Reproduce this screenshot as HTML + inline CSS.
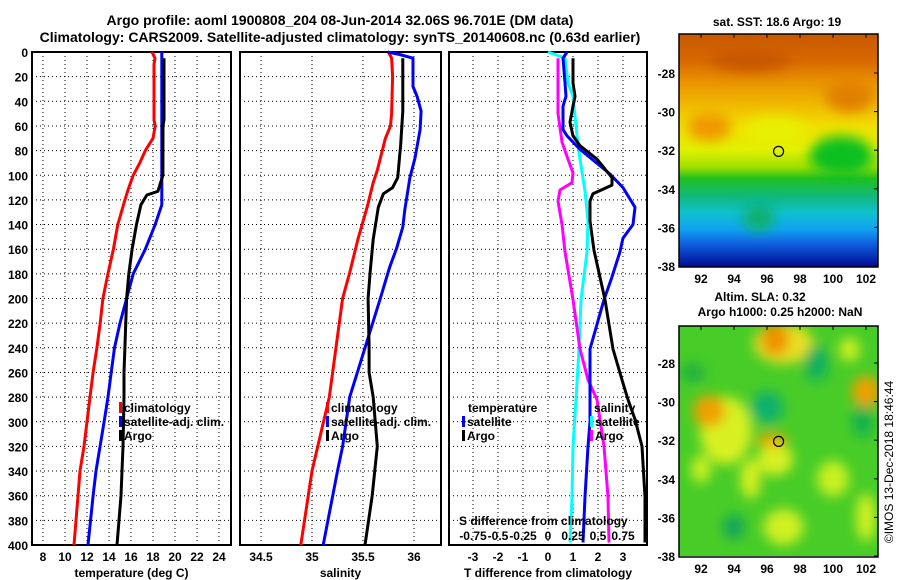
<!DOCTYPE html>
<html><head><meta charset="utf-8"><style>
body{margin:0;background:#fff;}
svg{display:block;font-family:"Liberation Sans",sans-serif;font-weight:bold;}
</style></head><body>
<svg id="c" width="900" height="580" viewBox="0 0 900 580">
<defs>
<linearGradient id="sstg" x1="0" y1="0" x2="0" y2="1">
<stop offset="0" stop-color="#c85800"/><stop offset="0.12" stop-color="#d86a00"/>
<stop offset="0.2" stop-color="#e89000"/><stop offset="0.3" stop-color="#f0b800"/>
<stop offset="0.4" stop-color="#f0e000"/><stop offset="0.5" stop-color="#e0f000"/>
<stop offset="0.57" stop-color="#a0e000"/><stop offset="0.62" stop-color="#20c020"/>
<stop offset="0.7" stop-color="#10b880"/><stop offset="0.77" stop-color="#10c0d0"/>
<stop offset="0.84" stop-color="#10a0f0"/><stop offset="0.9" stop-color="#1060e0"/>
<stop offset="1" stop-color="#000a90"/></linearGradient>
<filter id="bl" x="-50%" y="-50%" width="200%" height="200%"><feGaussianBlur stdDeviation="6"/></filter>
<clipPath id="cm1"><rect x="679" y="34" width="199" height="233"/></clipPath>
<clipPath id="cm2"><rect x="679" y="326" width="199" height="230"/></clipPath>
</defs>
<text x="340" y="25" font-size="14" text-anchor="middle">Argo profile: aoml 1900808_204 08-Jun-2014 32.06S 96.701E (DM data)</text>
<text x="340" y="42" font-size="14" text-anchor="middle">Climatology: CARS2009. Satellite-adjusted climatology: synTS_20140608.nc (0.63d earlier)</text>
<g id="plots"></g>
</svg>
<script>
// ---- data ----
const depthTicks=[0,20,40,60,80,100,120,140,160,180,200,220,240,260,280,300,320,340,360,380,400];
const tTicks=[8,10,12,14,16,18,20,22,24];
const sTicks=[34.5,35,35.5,36];
const dTTicks=[-3,-2,-1,0,1,2,3];
const dSTicks=[-0.75,-0.5,-0.25,0,0.25,0.5,0.75];
const dSLabels=["-0.75","-0.5","-0.25","0","0.25","0.5","0.75"];
const lonTicks=[92,94,96,98,100,102];
const latTicks=[-28,-30,-32,-34,-36,-38];

const tClimD=[0,5,10,30,55,60,70,80,90,100,110,120,140,160,180,200,220,240,260,280,320,340,360,400];
const tClimV=[17.91,18.18,18.09,18.09,18.09,18.2,18.0,17.3,16.8,16.2,15.8,15.45,14.8,14.4,13.9,13.45,13.2,12.9,12.55,12.27,11.73,11.36,11.18,10.82];
const tSatD=[0,124,140,160,180,200,220,240,260,280,300,340,360,400];
const tSatV=[18.8,18.8,18.2,17.3,16.2,15.6,15.0,14.5,14.2,13.91,13.55,12.82,12.55,12.09];
const tArgoD=[5,55,60,100,113,116,124,140,160,180,200,240,260,280,320,360,400];
const tArgoV=[19.0,19.0,18.91,18.9,18.45,17.45,16.9,16.5,16.1,15.8,15.6,15.45,15.36,15.36,15.27,15.09,14.73];

const sClimD=[0,5,20,50,60,70,96,106,126,152,179,200,280,340,400];
const sClimV=[35.75,35.78,35.79,35.78,35.77,35.72,35.64,35.60,35.54,35.45,35.37,35.30,35.17,35.00,34.89];
const sSatD=[0,2,5,28,36,48,63,86,102,128,142,159,175,200,280,320,340,400];
const sSatV=[35.74,35.86,35.99,35.99,36.03,36.07,36.06,36.01,35.96,35.91,35.89,35.83,35.76,35.67,35.37,35.30,35.25,35.11];
const sArgoD=[5,48,75,102,110,115,126,152,179,200,240,260,280,320,360,400];
const sArgoV=[35.89,35.89,35.87,35.84,35.79,35.70,35.65,35.60,35.57,35.55,35.56,35.56,35.60,35.64,35.59,35.52];

const dTArgoD=[5,25,36,44,57,68,76,87,102,108,115,121,137,161,201,241,266,282,298,320,361,398];
const dTArgoV=[1.0,1.0,1.08,1.0,0.88,1.0,1.28,1.96,2.56,2.56,1.8,1.68,1.68,1.84,2.28,2.6,2.96,3.2,3.48,3.76,3.88,3.88];
const dTSatD=[0,5,25,36,44,63,68,79,99,110,126,140,151,162,183,201,241,266,300,320,361,398];
const dTSatV=[0.76,0.6,0.68,0.72,0.6,0.6,0.76,1.28,2.48,3.0,3.48,3.4,3.0,2.88,2.55,2.24,1.68,1.68,1.68,1.6,1.48,1.4];
const dSArgoD=[5,50,73,87,98,106,112,121,140,162,201,241,266,282,320,361,398];
const dSArgoV=[0.10,0.10,0.14,0.20,0.25,0.24,0.12,0.10,0.14,0.17,0.25,0.32,0.40,0.49,0.56,0.60,0.61];
const dSSatD=[0,2,5,25,36,68,87,113,137,162,201,241,282,320,361,398];
const dSSatV=[0.0,0.07,0.17,0.20,0.25,0.29,0.32,0.37,0.40,0.39,0.33,0.31,0.28,0.25,0.24,0.22];

const argoLon=96.701, argoLat=-32.06;

// ---- drawing ----
const NS="http://www.w3.org/2000/svg";
const root=document.getElementById('plots');
function mk(tag,attrs,parent){const e=document.createElementNS(NS,tag);for(const k in attrs)e.setAttribute(k,attrs[k]);(parent||root).appendChild(e);return e;}
const yD=d=>52+d*1.2325;
const Y0=52,Y1=545;

const panels=[
 {name:'temperature',x0:32,x1:231,sx:v=>43+(v-8)*11,ticks:tTicks,lab:tTicks.map(String),xl:'temperature (deg C)'},
 {name:'salinity',x0:240,x1:441,sx:v=>261+(v-34.5)*102,ticks:sTicks,lab:sTicks.map(String),xl:'salinity'},
 {name:'difference',x0:449,x1:647,sx:v=>548+v*25,ticks:dTTicks,lab:dTTicks.map(String),xl:'T difference from climatology'}
];
const sxS=v=>548+v*100;

panels.forEach((p,i)=>{
  const g=mk('g',{});
  
  
  p.ticks.forEach(t=>{const x=p.sx(t);
    const l=mk('line',{x1:x,x2:x,y1:Y0,y2:Y1,stroke:'#000','stroke-width':1,'stroke-dasharray':'1,3'},g);
    
    const tx=mk('text',{x:x,y:561,'font-size':12,'text-anchor':'middle'},g);tx.textContent=p.lab[p.ticks.indexOf(t)];
    
  });
  depthTicks.forEach(d=>{const y=yD(d);
    if(d>0&&d<400){const l=mk('line',{x1:p.x0,x2:p.x1,y1:y,y2:y,stroke:'#000','stroke-width':1,'stroke-dasharray':'1,3'},g);
    }
    if(i===0){const tx=mk('text',{x:28,y:y+5,'font-size':12,'text-anchor':'end'},g);tx.textContent=d;
    }
  });
  const fr=mk('rect',{x:p.x0,y:Y0,width:p.x1-p.x0,height:Y1-Y0,fill:'none',stroke:'#000','stroke-width':2},g);
  
  const xl=mk('text',{x:(p.x0+p.x1)/2,y:577,'font-size':12,'text-anchor':'middle'},g);xl.textContent=p.xl;
  
  p.g=g;
});

function line(g,D,V,sx,col,name){
  const pts=D.map((d,k)=>sx(V[k]).toFixed(1)+','+yD(d).toFixed(1)).join(' ');
  const l=mk('polyline',{points:pts,fill:'none',stroke:col,'stroke-width':3,'stroke-linejoin':'round'},g);
  
}
const P=panels;
line(P[0].g,tClimD,tClimV,P[0].sx,'#f00','temp-climatology-line');
line(P[0].g,tSatD,tSatV,P[0].sx,'#00f','temp-satellite-adj-line');
line(P[0].g,tArgoD,tArgoV,P[0].sx,'#000','temp-argo-line');
line(P[1].g,sClimD,sClimV,P[1].sx,'#f00','sal-climatology-line');
line(P[1].g,sSatD,sSatV,P[1].sx,'#00f','sal-satellite-adj-line');
line(P[1].g,sArgoD,sArgoV,P[1].sx,'#000','sal-argo-line');
line(P[2].g,dSSatD,dSSatV,sxS,'#0ff','s-diff-satellite-line');
line(P[2].g,dSArgoD,dSArgoV,sxS,'#f0f','s-diff-argo-line');
line(P[2].g,dTSatD,dTSatV,P[2].sx,'#00f','t-diff-satellite-line');
line(P[2].g,dTArgoD,dTArgoV,P[2].sx,'#000','t-diff-argo-line');

function leg(g,x,y,col,txt,name){
  if(col){mk('rect',{x:x,y:y-10,width:3,height:11,fill:col},g);}
  const t=mk('text',{x:x+(col?5:0),y:y,'font-size':12},g);t.textContent=txt;
  
}
leg(P[0].g,119,412,'#f00','climatology','legend-climatology');
leg(P[0].g,119,426,'#00f','satellite-adj. clim.','legend-satellite-adj');
leg(P[0].g,119,440,'#000','Argo','legend-argo');
leg(P[1].g,326,412,'#f00','climatology','legend-climatology');
leg(P[1].g,326,426,'#00f','satellite-adj. clim.','legend-satellite-adj');
leg(P[1].g,326,440,'#000','Argo','legend-argo');
leg(P[2].g,468,412,null,'temperature','legend-temperature-header');
leg(P[2].g,462,426,'#00f','satellite','legend-t-satellite');
leg(P[2].g,462,440,'#000','Argo','legend-t-argo');
leg(P[2].g,594,412,null,'salinity','legend-salinity-header');
leg(P[2].g,590,426,'#0ff','satellite','legend-s-satellite');
leg(P[2].g,590,440,'#f0f','Argo','legend-s-argo');
const sdt=mk('text',{x:459,y:525,'font-size':12},P[2].g);sdt.textContent='S difference from climatology';

dSTicks.forEach((v,k)=>{const t=mk('text',{x:sxS(v),y:540,'font-size':12,'text-anchor':'middle'},P[2].g);t.textContent=dSLabels[k];
 });

// ---- maps ----
const lonX=lon=>701+(lon-92)*16.5;
function map(top,latY,clip,name,fillFn){
  const g=mk('g',{});
  const inner=mk('g',{'clip-path':'url(#'+clip+')'},g);
  fillFn(inner,latY);
  const c=mk('circle',{cx:lonX(argoLon),cy:latY(argoLat),r:5,fill:'none',stroke:'#000','stroke-width':1.2},g);
  
  mk('rect',{x:679,y:top,width:199,height:latY(-38)-top+1,fill:'none',stroke:'#000','stroke-width':1.5},g);
  lonTicks.forEach(l=>{const x=lonX(l);mk('line',{x1:x,x2:x,y1:top,y2:top+4,stroke:'#000'},g);
    const t=mk('text',{x:x,y:latY(-38)+17,'font-size':12,'text-anchor':'middle'},g);t.textContent=l;
    });
  latTicks.forEach(l=>{const y=latY(l);mk('line',{x1:874,x2:878,y1:y,y2:y,stroke:'#000'},g);
    const t=mk('text',{x:675,y:y+5,'font-size':12,'text-anchor':'end'},g);t.textContent=l;
    });
}
map(34,lat=>73+(-28-lat)*19.3,'cm1','sst-map',(g,ly)=>{
  mk('rect',{x:679,y:34,width:199,height:233,fill:'url(#sstg)'},g);
  const b=mk('g',{filter:'url(#bl)'},g);
  mk('ellipse',{cx:lonX(100.5),cy:ly(-32.3),rx:32,ry:20,fill:'#10c020'},b);
  mk('ellipse',{cx:lonX(101),cy:ly(-29.2),rx:24,ry:16,fill:'#e08000'},b);
  mk('ellipse',{cx:lonX(92.5),cy:ly(-30.8),rx:22,ry:14,fill:'#f09800'},b);
  mk('ellipse',{cx:lonX(95),cy:ly(-27.3),rx:40,ry:12,fill:'#c85800'},b);
  mk('ellipse',{cx:lonX(96.5),cy:ly(-31),rx:30,ry:14,fill:'#e8f000'},b);
  mk('ellipse',{cx:lonX(95.5),cy:ly(-35.5),rx:16,ry:14,fill:'#10b070'},b);
});
map(326,lat=>363+(-28-lat)*19.3,'cm2','sla-map',(g,ly)=>{
  mk('rect',{x:679,y:326,width:199,height:231,fill:'#48cc28'},g);
  const b=mk('g',{filter:'url(#bl)'},g);
  const Y=[[93.5,-31.5,26,34,'#d8f020'],[96.5,-33,18,16,'#d8f020'],[97,-27,30,20,'#e8e020'],[96.5,-26.8,14,16,'#f09000'],
   [92.5,-30.5,16,16,'#f0a000'],[96.3,-32,16,7,'#f0a800'],[102,-29.5,14,16,'#f0a000'],[100,-34,16,18,'#c8f020'],
   [92,-33.5,10,14,'#c8f020'],[97,-36.5,20,18,'#d0f020'],[102,-36,10,24,'#d0f020'],[101,-27.3,10,12,'#d0f020'],[95,-34,10,20,'#d8f020'],
   [96,-30.3,16,16,'#10b070'],[99,-28,12,18,'#10b060'],[94,-36.5,10,12,'#10a060'],[101.8,-31,10,16,'#10b050'],[91.5,-28.5,12,10,'#20b040']];
  Y.forEach(e=>mk('ellipse',{cx:lonX(e[0]),cy:ly(e[1]),rx:e[2],ry:e[3],fill:e[4]},b));
});
function txt(x,y,s,name,extra){const t=mk('text',Object.assign({x:x,y:y,'font-size':12,'text-anchor':'middle'},extra||{}));t.textContent=s;
 }
txt(777,26,'sat. SST: 18.6 Argo: 19','sst-map-title');
txt(760,301,'Altim. SLA: 0.32','sla-map-title');
txt(780,316,'Argo h1000: 0.25 h2000: NaN','sla-map-subtitle');
txt(893,462,'©IMOS 13-Dec-2018 18:46:44','timestamp-label',{transform:'rotate(-90 893 462)','font-weight':'normal'});
</script>
</body></html>
